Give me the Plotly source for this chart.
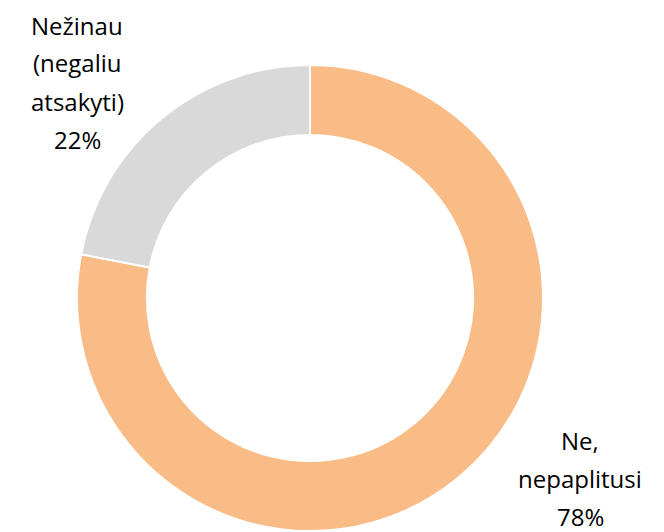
import plotly.graph_objects as go

labels = ["Ne,\nnepaplitusi", "Nežinau\n(negaliu\natsakyti)"]
values = [78, 22]
colors = ["#F9BC86", "#D9D9D9"]

# the page body adds an 8px offset; size the figure so it fits the window
OFF = 8
W, H = 664 - OFF, 532 - OFF
cx, cy, r = 310 - OFF, 298 - OFF, 233

fig = go.Figure(go.Pie(
    labels=[l.replace("\n", " ") for l in labels],
    values=values,
    hole=0.70,
    sort=False,
    direction="clockwise",
    rotation=0,
    marker=dict(colors=colors, line=dict(color="white", width=2)),
    textinfo="none",
    hoverinfo="label+percent",
    domain=dict(x=[(cx - r) / W, (cx + r) / W], y=[(H - cy - r) / H, (H - cy + r) / H]),
    showlegend=False,
))

anchors = [(580 - OFF, 440 - OFF), (77 - OFF, 25 - OFF)]
spacing = 38
annotations = []
total = sum(values)
for lab, val, (ax, ay) in zip(labels, values, anchors):
    lines = lab.split("\n") + [f"{round(100 * val / total)}%"]
    for i, line in enumerate(lines):
        annotations.append(dict(
            x=ax / W, y=(H - (ay + i * spacing)) / H, xref="paper", yref="paper",
            text=line, showarrow=False, xanchor="center", yanchor="middle",
            font=dict(family="Open Sans", size=24, color="#000000"),
        ))

fig.update_layout(
    width=W, height=H,
    margin=dict(l=0, r=0, t=0, b=0),
    paper_bgcolor="white", plot_bgcolor="white",
    annotations=annotations,
)
fig.write_html("out.html")
